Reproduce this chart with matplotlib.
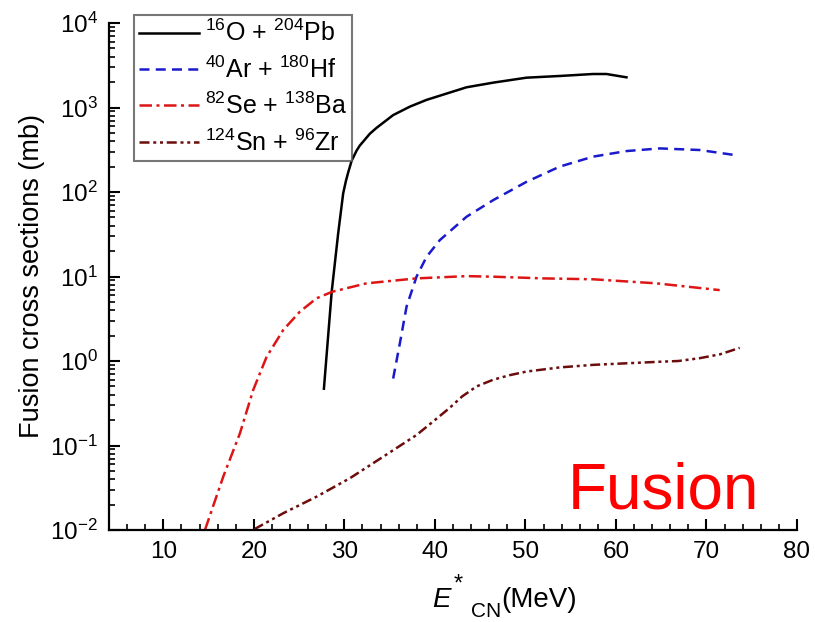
import matplotlib
matplotlib.use("Agg")
import matplotlib.pyplot as plt
from matplotlib.ticker import LogLocator, NullFormatter, FixedLocator
import numpy as np

plt.rcParams['font.family'] = ['Liberation Sans', 'DejaVu Sans']
plt.rcParams['mathtext.fontset'] = 'custom'
plt.rcParams['mathtext.rm'] = 'Liberation Sans'
plt.rcParams['mathtext.it'] = 'Liberation Sans:italic'
plt.rcParams['mathtext.bf'] = 'Liberation Sans:bold'

# 16O + 204Pb
e_opb = [27.74, 28.6, 29.32, 29.87, 30.17, 30.42, 30.8, 31.35, 31.71, 32.82,
         33.56, 35.39, 37.23, 39.07, 43.49, 46.43, 50.12, 53.8, 57.47, 58.95, 61.16]
s_opb = [0.47, 6.6, 32.7, 96.6, 135, 170, 234, 309, 355, 490,
         575, 813, 1023, 1230, 1734, 1968, 2254, 2361, 2491, 2491, 2276]

# 40Ar + 180Hf
e_arhf = [35.39, 36.13, 36.87, 37.97, 39.08, 40.55, 43.5, 46.43, 50.12, 53.8,
          57.47, 61.15, 64.84, 69.25, 73.1]
s_arhf = [0.62, 1.62, 4.4, 9.95, 17.1, 27, 51, 80, 132, 200,
          262, 305, 328, 314, 274]

# 82Se + 138Ba
e_seba = [14.6, 16.62, 18.46, 19.93, 21.41, 23.25, 25.09, 26.93, 28.66, 32.45,
          37.97, 43.49, 46.44, 51.95, 57.47, 64.46, 71.46]
s_seba = [0.01, 0.0428, 0.139, 0.454, 1.12, 2.33, 3.84, 5.52, 6.6, 8.3,
          9.5, 10.1, 9.95, 9.5, 9.27, 8.3, 6.9]

# 124Sn + 96Zr
e_snzr = [20.04, 23.25, 26.93, 30.61, 34.29, 37.97, 40.0, 41.65, 43.0, 44.6,
          46.43, 48.27, 50.12, 53.8, 57.47, 64.84, 66.9, 69.25, 71.5, 73.67]
s_snzr = [0.0102, 0.0158, 0.0248, 0.041, 0.0737, 0.133, 0.2, 0.28, 0.38, 0.5,
          0.6, 0.68, 0.75, 0.84, 0.9, 0.98, 1.0, 1.08, 1.2, 1.43]

labels = [r'$^{16}$O + $^{204}$Pb', r'$^{40}$Ar + $^{180}$Hf',
          r'$^{82}$Se + $^{138}$Ba', r'$^{124}$Sn + $^{96}$Zr']

y_major = [1e-2, 1e-1, 1e0, 1e1, 1e2, 1e3, 1e4]

W, H = 815, 622
fig = plt.figure(figsize=(W / 100, H / 100), dpi=100)
ax = fig.add_axes([109 / W, 1 - 530 / H, 688 / W, 507 / H])

lw = 1.8
ax.plot(e_opb, s_opb, color='black', lw=lw, ls='-', label=labels[0])
ax.plot(e_arhf, s_arhf, color='#1a1acc', lw=lw, ls=(0, (4, 2.5)), label=labels[1])
ax.plot(e_seba, s_seba, color='#dd1515', lw=lw, ls=(0, (5, 1.8, 1.2, 1.8)), label=labels[2])
ax.plot(e_snzr, s_snzr, color='#6b0d0d', lw=lw,
        ls=(0, (4, 1.5, 1.2, 1.5, 1.2, 1.5)), label=labels[3])

ax.set_yscale('log')
ax.set_xlim(4, 80)
ax.set_ylim(1e-2, 1e4)
ax.set_xticks(np.arange(10, 81, 10))
ax.set_xticks(np.arange(6, 80, 2), minor=True)
ax.yaxis.set_major_locator(FixedLocator(y_major))
ax.yaxis.set_minor_locator(LogLocator(base=10, subs=np.arange(2, 10), numticks=20))
ax.yaxis.set_minor_formatter(NullFormatter())

for side in ['top', 'right']:
    ax.spines[side].set_visible(False)
for side in ['left', 'bottom']:
    ax.spines[side].set_linewidth(1.6)

ax.tick_params(which='major', direction='in', length=8, width=1.5, labelsize=17.5, pad=8)
ax.tick_params(which='minor', direction='in', length=4.5, width=1.2)

ax.set_ylabel('Fusion cross sections (mb)', fontsize=19.5, labelpad=4)
ax.xaxis.label.set_visible(False)

# x-axis title, built from pieces: E, star, CN subscript, unit
fig.text(432 / W, 1 - 607 / H, 'E', fontsize=20, style='italic', va='baseline')
fig.text(454 / W, 1 - 591 / H, '*', fontsize=17, va='baseline')
fig.text(471 / W, 1 - 617 / H, 'CN', fontsize=15, va='baseline')
fig.text(501 / W, 1 - 607 / H, '(MeV)', fontsize=20, va='baseline')

ax.text(0.667, 0.043, 'Fusion', transform=ax.transAxes, color='#ff0000',
        fontsize=46, va='baseline', ha='left')

leg = ax.legend(loc='upper left', bbox_to_anchor=(134 / W, 1 - 15 / H),
                bbox_transform=fig.transFigure, fontsize=18, frameon=True,
                fancybox=False, handlelength=2.4, handletextpad=0.25,
                labelspacing=0.4, borderpad=0.2, borderaxespad=0)
leg.get_frame().set_edgecolor('#555555')
leg.get_frame().set_linewidth(1.5)

fig.savefig('out.png', dpi=100)
